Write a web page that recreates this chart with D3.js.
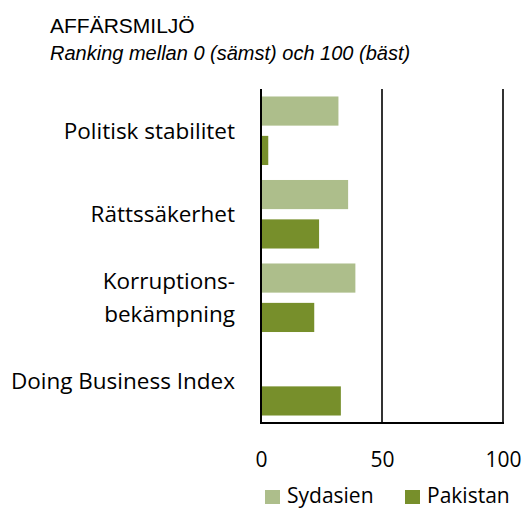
<!DOCTYPE html>
<html>
<head>
<meta charset="utf-8">
<script src="https://cdn.jsdelivr.net/npm/d3@7"></script>
<style>
  body { margin: 0; background: #fff; }
  svg { display: block; }
</style>
</head>
<body>
<svg id="chart"></svg>
<script>
const categories = [["Politisk stabilitet"], ["Rättssäkerhet"], ["Korruptions-", "bekämpning"], ["Doing Business Index"]];
const seriesNames = ["Sydasien", "Pakistan"];
const sydasien = [32, 36, 39, null];
const pakistan = [3, 24, 22, 33];
const xTicks = [0, 50, 100];
const colors = ["#adbe8b", "#778f2b"];

const width = 525, height = 509;
const margin = {top: 89, right: 22, bottom: 86, left: 261};
const labelFont = 'Open Sans, sans-serif';

const svg = d3.select('#chart').attr('width', width).attr('height', height);

svg.append('text').attr('x', 50).attr('y', 33)
  .style('font-family', 'Liberation Sans, Arial').style('font-size', '21px')
  .text('AFFÄRSMILJÖ');
svg.append('text').attr('x', 50).attr('y', 60)
  .style('font-family', 'Liberation Sans, Arial').style('font-size', '20px').style('font-style', 'italic')
  .text('Ranking mellan 0 (sämst) och 100 (bäst)');

const x = d3.scaleLinear().domain([0, 100]).range([margin.left, width - margin.right]);
const y = d3.scaleBand().domain(d3.range(categories.length))
  .range([margin.top, height - margin.bottom]).paddingInner(0).paddingOuter(0);
const inner = d3.scaleBand().domain([0, 1]).range([0, y.bandwidth()]).paddingInner(0.26).paddingOuter(0.19);

// gridlines
svg.append('g').selectAll('line').data(xTicks.slice(1)).join('line')
  .attr('x1', d => x(d)).attr('x2', d => x(d))
  .attr('y1', margin.top).attr('y2', height - margin.bottom)
  .attr('stroke', '#333').attr('stroke-width', 2);

const series = [sydasien, pakistan];
series.forEach((vals, s) => {
  svg.append('g').selectAll('rect')
    .data(vals.map((v, i) => ({v, i})).filter(d => d.v != null))
    .join('rect')
    .attr('x', x(0))
    .attr('y', d => y(d.i) + inner(s))
    .attr('width', d => x(d.v) - x(0))
    .attr('height', inner.bandwidth())
    .attr('fill', colors[s]);
});

// axis lines
svg.append('line').attr('x1', x(0)).attr('x2', x(0))
  .attr('y1', margin.top).attr('y2', height - margin.bottom + 1)
  .attr('stroke', '#000').attr('stroke-width', 2);
svg.append('line').attr('x1', x(0) - 1).attr('x2', x(100) + 1)
  .attr('y1', height - margin.bottom).attr('y2', height - margin.bottom)
  .attr('stroke', '#000').attr('stroke-width', 2);

// x tick labels
const xAxis = svg.append('g')
  .attr('transform', `translate(0,${height - margin.bottom})`)
  .call(d3.axisBottom(x).tickValues(xTicks).tickSize(0));
xAxis.select('.domain').remove();
xAxis.selectAll('text').attr('y', 44).attr('dy', null)
  .style('font-family', labelFont).style('font-size', '21px').attr('fill', '#000');

// category labels
const labels = svg.append('g').selectAll('text').data(categories).join('text')
  .attr('x', 235).attr('text-anchor', 'end')
  .style('font-family', labelFont).style('font-size', '22.5px');
labels.each(function(lines, i) {
  const t = d3.select(this);
  const cy = y(i) + y.bandwidth() / 2;
  const lh = 33;
  lines.forEach((l, j) => {
    t.append('tspan').attr('x', 235)
      .attr('y', cy + (j - (lines.length - 1) / 2) * lh + 8)
      .text(l);
  });
});

// legend
const legend = svg.append('g');
const legX = [265, 405];
seriesNames.forEach((n, i) => {
  legend.append('rect').attr('x', legX[i]).attr('y', 490).attr('width', 15).attr('height', 14).attr('fill', colors[i]);
  legend.append('text').attr('x', legX[i] + 22).attr('y', 503)
    .style('font-family', labelFont).style('font-size', '21px').text(n);
});
</script>
</body>
</html>
